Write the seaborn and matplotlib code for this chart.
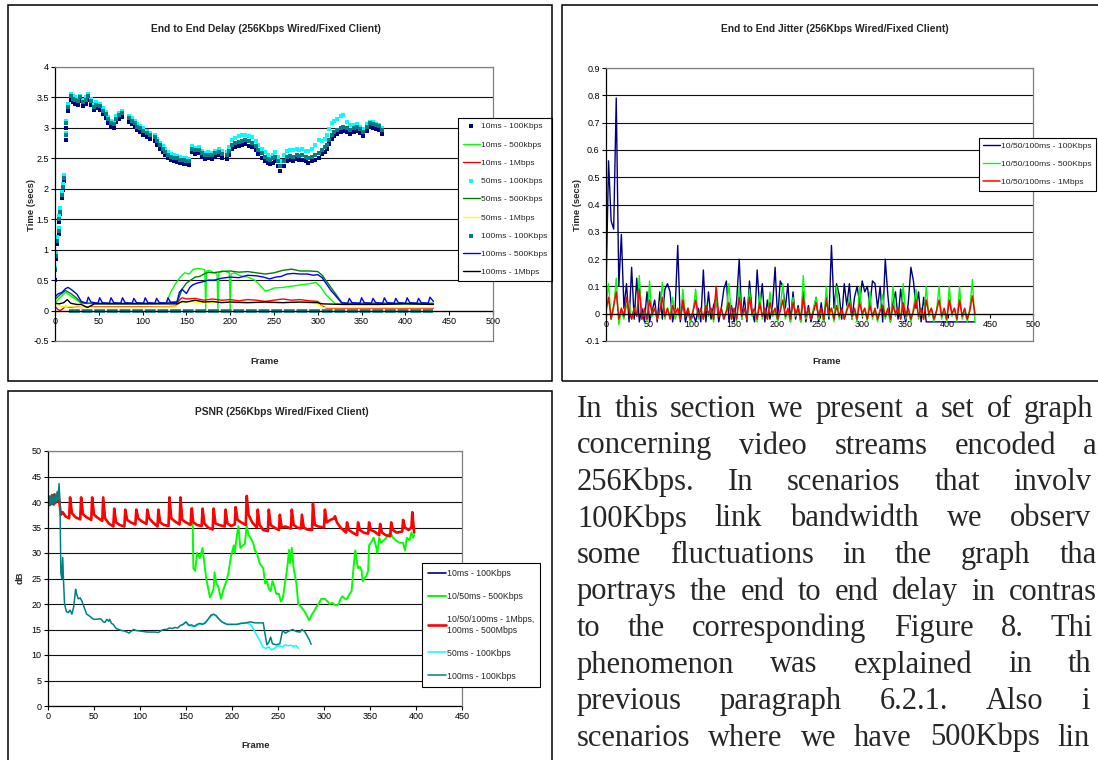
import numpy as np
import matplotlib
matplotlib.use("Agg")
import matplotlib.pyplot as plt
from matplotlib.patches import Rectangle
from matplotlib.ticker import FixedLocator, FuncFormatter
import seaborn as sns

# ---------------- End to End Delay (256Kbps) ----------------
delay_frames = [0, 1, 2, 4, 5, 6, 8, 9, 10, 12,
                13, 15, 18, 20, 23, 26, 29, 32, 35, 38,
                41, 44, 47, 51, 55, 58, 61, 64, 67, 70,
                73, 76, 85, 88, 91, 94, 97, 101, 105, 109,
                114, 117, 120, 123, 126, 129, 132, 136, 139, 143,
                147, 150, 153, 156, 160, 164, 168, 171, 175, 179,
                183, 187, 191, 196, 199, 202, 206, 210, 214, 217,
                221, 225, 229, 232, 236, 240, 243, 246, 249, 251,
                254, 257, 261, 265, 268, 272, 276, 279, 282, 286,
                289, 293, 297, 301, 305, 308, 310, 313, 316, 319,
                322, 326, 329, 333, 337, 341, 345, 348, 352, 356,
                360, 363, 367, 370, 373]
delay_10ms_100k = [0.50, 0.85, 1.10, 1.25, 1.45, 1.58, 1.85, 1.98, 2.12, 2.80,
                   3.00, 3.28, 3.45, 3.42, 3.40, 3.38, 3.44, 3.36, 3.40, 3.46,
                   3.38, 3.30, 3.32, 3.30, 3.22, 3.16, 3.08, 3.02, 3.00, 3.09,
                   3.15, 3.18, 3.10, 3.06, 3.02, 2.96, 2.93, 2.89, 2.85, 2.82,
                   2.79, 2.72, 2.66, 2.60, 2.55, 2.50, 2.47, 2.45, 2.44, 2.42,
                   2.41, 2.40, 2.39, 2.60, 2.57, 2.58, 2.52, 2.49, 2.50, 2.49,
                   2.52, 2.55, 2.51, 2.49, 2.55, 2.65, 2.68, 2.70, 2.72, 2.73,
                   2.71, 2.69, 2.63, 2.57, 2.51, 2.46, 2.42, 2.40, 2.43, 2.46,
                   2.38, 2.30, 2.37, 2.46, 2.47, 2.46, 2.49, 2.47, 2.48, 2.45,
                   2.43, 2.46, 2.48, 2.51, 2.57, 2.61, 2.65, 2.73, 2.81, 2.86,
                   2.90, 2.93, 2.95, 2.93, 2.90, 2.93, 2.95, 2.91, 2.87, 2.95,
                   3.01, 3.00, 2.98, 2.96, 2.90]
delay_50ms_100k = [0.70, 0.95, 1.20, 1.35, 1.55, 1.68, 1.95, 2.08, 2.22, 2.92,
                   3.12, 3.40, 3.56, 3.52, 3.50, 3.48, 3.53, 3.46, 3.50, 3.55,
                   3.48, 3.40, 3.42, 3.40, 3.32, 3.26, 3.18, 3.12, 3.10, 3.19,
                   3.25, 3.28, 3.20, 3.16, 3.12, 3.06, 3.03, 2.99, 2.95, 2.92,
                   2.89, 2.82, 2.76, 2.70, 2.65, 2.60, 2.57, 2.55, 2.54, 2.52,
                   2.51, 2.50, 2.49, 2.70, 2.67, 2.68, 2.62, 2.59, 2.60, 2.59,
                   2.62, 2.65, 2.62, 2.60, 2.68, 2.80, 2.84, 2.86, 2.88, 2.89,
                   2.87, 2.85, 2.78, 2.72, 2.65, 2.60, 2.56, 2.53, 2.56, 2.60,
                   2.52, 2.45, 2.55, 2.62, 2.64, 2.63, 2.66, 2.64, 2.65, 2.62,
                   2.62, 2.66, 2.72, 2.80, 2.78, 2.82, 2.88, 2.98, 3.08, 3.12,
                   3.14, 3.20, 3.21, 3.10, 3.04, 3.04, 3.06, 3.02, 2.98, 3.06,
                   3.10, 3.09, 3.07, 3.05, 3.00]
delay_100ms_100k = [0.66, 0.90, 1.15, 1.30, 1.50, 1.62, 1.90, 2.03, 2.18, 2.88,
                    3.08, 3.35, 3.52, 3.48, 3.46, 3.44, 3.50, 3.42, 3.46, 3.52,
                    3.44, 3.35, 3.38, 3.36, 3.28, 3.22, 3.14, 3.08, 3.06, 3.15,
                    3.21, 3.24, 3.16, 3.12, 3.08, 3.02, 2.99, 2.95, 2.91, 2.88,
                    2.85, 2.78, 2.72, 2.66, 2.61, 2.56, 2.53, 2.51, 2.50, 2.48,
                    2.47, 2.46, 2.45, 2.66, 2.63, 2.64, 2.58, 2.55, 2.56, 2.55,
                    2.58, 2.61, 2.57, 2.55, 2.62, 2.72, 2.75, 2.77, 2.79, 2.80,
                    2.78, 2.76, 2.70, 2.64, 2.58, 2.53, 2.49, 2.47, 2.50, 2.53,
                    2.45, 2.38, 2.45, 2.53, 2.54, 2.53, 2.56, 2.54, 2.55, 2.52,
                    2.50, 2.53, 2.55, 2.58, 2.64, 2.68, 2.72, 2.80, 2.88, 2.93,
                    2.97, 3.00, 3.02, 3.00, 2.97, 3.00, 3.02, 2.98, 2.94, 3.02,
                    3.08, 3.07, 3.05, 3.03, 2.97]
# frames lost by the 100ms - 100Kbps stream sit on the zero line
lost_span = [16, 432]
lost_level = [0.0, 0.0]

lime_frames = [0, 5, 12, 18, 25, 30, 60, 100, 127, 132,
               138, 143, 148, 153, 158, 163, 168, 171, 172, 173,
               176, 180, 185, 186, 187, 190, 195, 199, 200, 201,
               205, 210, 215, 220, 225, 228, 232, 236, 240, 245,
               250, 260, 270, 280, 290, 298, 303, 310, 320, 360,
               400, 432]
delay_10ms_500k = [0.12, 0.20, 0.30, 0.24, 0.17, 0.12, 0.11, 0.11, 0.12, 0.30,
                   0.45, 0.55, 0.62, 0.60, 0.68, 0.69, 0.68, 0.67, 0.02, 0.65,
                   0.66, 0.63, 0.60, 0.03, 0.62, 0.65, 0.64, 0.62, 0.00, 0.60,
                   0.62, 0.58, 0.56, 0.55, 0.52, 0.50, 0.45, 0.38, 0.32, 0.34,
                   0.37, 0.38, 0.40, 0.42, 0.44, 0.46, 0.39, 0.25, 0.11, 0.11,
                   0.11, 0.11]

red_frames = [0, 3, 6, 9, 12, 15, 20, 25, 30, 40,
              60, 80, 100, 120, 138, 142, 145, 150, 160, 170,
              180, 190, 200, 210, 220, 230, 240, 250, 260, 270,
              280, 290, 300, 304, 310, 350, 400, 432]
delay_10ms_1m = [0.07, 0.02, 0.00, 0.03, 0.07, 0.06, 0.05, 0.06, 0.05, 0.06,
                 0.06, 0.06, 0.06, 0.06, 0.07, 0.17, 0.21, 0.19, 0.20, 0.17,
                 0.19, 0.17, 0.18, 0.16, 0.18, 0.17, 0.15, 0.17, 0.19, 0.17,
                 0.18, 0.16, 0.15, 0.08, 0.04, 0.04, 0.04, 0.04]

dkgreen_frames = [0, 5, 12, 18, 25, 30, 40, 60, 80, 100,
                  120, 140, 145, 150, 155, 160, 165, 170, 175, 180,
                  190, 200, 210, 220, 230, 240, 250, 260, 270, 280,
                  290, 300, 305, 315, 328, 360, 400, 432]
delay_50ms_500k = [0.18, 0.25, 0.33, 0.28, 0.20, 0.13, 0.12, 0.12, 0.12, 0.12,
                   0.12, 0.15, 0.35, 0.45, 0.50, 0.55, 0.56, 0.60, 0.63, 0.62,
                   0.64, 0.65, 0.63, 0.64, 0.62, 0.60, 0.62, 0.66, 0.68, 0.65,
                   0.65, 0.64, 0.58, 0.38, 0.12, 0.12, 0.12, 0.12]

yellow_frames = [0, 5, 10, 15, 20, 30, 60, 100, 138, 142,
                 150, 170, 190, 210, 230, 250, 270, 290, 300, 306,
                 320, 360, 400, 432]
delay_50ms_1m = [0.10, 0.08, 0.06, 0.07, 0.06, 0.05, 0.05, 0.05, 0.06, 0.13,
                 0.15, 0.13, 0.14, 0.12, 0.13, 0.12, 0.14, 0.12, 0.11, 0.05,
                 0.05, 0.05, 0.05, 0.05]

blue_frames = [0, 3, 8, 12, 15, 20, 25, 30,
               36, 38, 41, 49, 51, 54, 62, 64, 67, 75, 77, 80,
               88, 90, 93, 101, 103, 106, 114, 116, 119, 127, 129, 132,
               139, 142, 145, 150, 154, 157, 162, 168, 175, 182,
               190, 200, 210, 220, 230, 238, 245, 252, 258, 265,
               272, 280, 288, 295, 300, 305, 315, 327,
               334, 336, 339, 348, 350, 353, 361, 363, 366, 374, 376, 379,
               387, 389, 392, 400, 402, 405, 413, 415, 418, 426, 428, 432]
delay_100ms_500k = [0.22, 0.27, 0.30, 0.36, 0.38, 0.33, 0.27, 0.15,
                    0.12, 0.22, 0.14, 0.12, 0.21, 0.13, 0.12, 0.21, 0.13, 0.12, 0.21, 0.13,
                    0.12, 0.20, 0.13, 0.12, 0.21, 0.13, 0.12, 0.20, 0.13, 0.12, 0.21, 0.13,
                    0.13, 0.30, 0.35, 0.28, 0.38, 0.42, 0.45, 0.47, 0.50, 0.50,
                    0.53, 0.55, 0.54, 0.58, 0.57, 0.55, 0.52, 0.55, 0.56, 0.60,
                    0.61, 0.60, 0.60, 0.58, 0.59, 0.54, 0.33, 0.13,
                    0.12, 0.20, 0.13, 0.12, 0.21, 0.13, 0.12, 0.20, 0.13, 0.12, 0.21, 0.13,
                    0.12, 0.20, 0.13, 0.12, 0.21, 0.13, 0.12, 0.20, 0.13, 0.12, 0.22, 0.15]

black_frames = [0, 5, 10, 14, 18, 25, 30, 37, 45, 60,
                80, 100, 120, 140, 145, 150, 160, 170, 180, 190,
                200, 220, 240, 260, 280, 300, 305, 330, 370, 400,
                432]
delay_100ms_1m = [0.12, 0.11, 0.13, 0.18, 0.12, 0.10, 0.10, 0.05, 0.11, 0.11,
                  0.11, 0.11, 0.11, 0.11, 0.15, 0.14, 0.17, 0.14, 0.15, 0.13,
                  0.14, 0.13, 0.14, 0.13, 0.14, 0.13, 0.11, 0.10, 0.10, 0.11,
                  0.10]

# ---------------- End to End Jitter (256Kbps) ----------------
jitter_frames = list(range(0, 433, 3))
jitter_100k = [0.08, 0.56, 0.34, 0.31, 0.79, 0.10, 0.29, 0.02, 0.11, -0.03,
               0.17, -0.02, 0.13, -0.03, 0.02, -0.03, 0.08, -0.03, 0.01, 0.05,
               -0.03, 0.08, -0.02, 0.09, 0.11, 0.08, -0.03, 0.02, 0.25, -0.03,
               0.05, -0.03, 0.01, -0.03, 0.00, -0.03, 0.02, -0.03, 0.16, -0.03,
               0.08, -0.02, 0.03, 0.06, -0.03, 0.02, 0.09, 0.12, -0.03, 0.03,
               -0.03, 0.05, 0.20, -0.02, 0.06, -0.03, 0.12, 0.01, -0.03, 0.16,
               0.02, 0.11, -0.03, 0.05, -0.02, 0.03, 0.17, -0.02, 0.12, 0.10,
               0.02, 0.11, -0.03, 0.08, -0.02, 0.03, -0.03, 0.08, -0.03, 0.03,
               -0.03, 0.01, 0.06, -0.03, 0.04, -0.03, 0.06, -0.02, 0.25, 0.02,
               0.11, 0.07, -0.02, 0.11, 0.03, 0.11, -0.02, 0.06, 0.10, 0.04,
               0.12, 0.08, 0.10, 0.03, 0.12, 0.11, 0.02, 0.10, -0.03, 0.20,
               0.07, -0.03, 0.04, 0.08, -0.02, 0.09, 0.01, -0.03, 0.04, 0.17,
               0.12, 0.02, 0.08, -0.03, 0.06, -0.03, -0.03, -0.03, -0.03, -0.03,
               -0.03, -0.03, -0.03, -0.03, -0.03, -0.03, -0.03, -0.03, -0.03, -0.03,
               -0.03, -0.03, -0.03, -0.03, -0.03]
jitter_500k = [0.03, 0.11, -0.02, 0.02, 0.13, -0.04, 0.01, -0.02, 0.03, 0.04,
               -0.02, 0.02, -0.01, 0.14, -0.02, 0.01, -0.03, 0.12, -0.01, 0.02,
               -0.02, 0.01, 0.115, -0.02, 0.02, -0.01, 0.06, -0.02, 0.01, -0.02,
               0.09, -0.01, 0.02, -0.03, 0.01, 0.09, -0.02, 0.01, -0.02, 0.04,
               -0.01, 0.02, -0.03, 0.06, -0.01, 0.02, -0.02, 0.01, 0.11, -0.02,
               0.01, -0.03, 0.10, -0.02, 0.02, -0.02, 0.09, -0.01, 0.01, -0.03,
               0.075, -0.02, 0.02, -0.02, 0.08, -0.01, 0.01, -0.03, 0.02, 0.11,
               -0.02, 0.01, -0.03, 0.06, -0.01, 0.02, -0.03, 0.14, -0.02, 0.01,
               -0.02, 0.02, 0.06, -0.02, 0.01, -0.03, 0.10, -0.01, 0.02, -0.03,
               0.10, -0.02, 0.01, -0.02, 0.02, 0.06, -0.02, 0.01, -0.03, 0.10,
               -0.01, 0.02, -0.03, 0.08, -0.02, 0.01, -0.03, 0.02, 0.07, -0.02,
               0.01, -0.03, 0.10, -0.01, 0.02, -0.02, 0.11, -0.02, 0.01, -0.03,
               0.02, 0.09, -0.02, 0.01, -0.02, 0.10, -0.01, 0.02, -0.03, 0.01,
               0.10, -0.02, 0.01, -0.03, 0.10, -0.01, 0.02, -0.03, 0.10, -0.02,
               0.01, -0.03, 0.02, 0.125, -0.03]
jitter_1m = [0.01, 0.06, -0.02, 0.03, 0.08, -0.02, 0.02, -0.01, 0.06, 0.01,
             -0.02, 0.02, -0.01, 0.09, -0.02, 0.02, -0.02, 0.05, 0.00, 0.02,
             -0.02, 0.01, 0.06, -0.01, 0.02, -0.02, 0.03, 0.00, 0.02, -0.02,
             0.05, -0.01, 0.02, -0.02, 0.01, 0.05, -0.01, 0.02, -0.02, 0.03,
             0.00, 0.02, -0.02, 0.10, -0.01, 0.02, -0.02, 0.01, 0.04, -0.02,
             0.02, -0.02, 0.06, -0.01, 0.02, -0.02, 0.06, 0.00, 0.02, -0.02,
             0.04, -0.01, 0.02, -0.02, 0.04, 0.00, 0.02, -0.02, 0.01, 0.05,
             -0.01, 0.02, -0.02, 0.04, 0.00, 0.02, -0.02, 0.06, -0.01, 0.02,
             -0.02, 0.01, 0.04, -0.01, 0.02, -0.02, 0.05, 0.00, 0.02, -0.02,
             0.03, -0.01, 0.02, -0.02, 0.01, 0.04, -0.01, 0.02, -0.02, 0.04,
             0.00, 0.02, -0.02, 0.03, -0.01, 0.02, -0.02, 0.01, 0.03, -0.01,
             0.02, -0.02, 0.03, 0.00, 0.02, -0.02, 0.04, -0.01, 0.02, -0.02,
             0.01, 0.05, -0.01, 0.02, -0.02, 0.05, 0.00, 0.02, -0.02, 0.01,
             0.05, -0.01, 0.02, -0.02, 0.05, 0.00, 0.02, -0.02, 0.05, -0.01,
             0.02, -0.02, 0.01, 0.065, 0.00]

# ---------------- PSNR (256Kbps) ----------------
psnr_navy_frames = [0, 1, 2, 3, 4, 5, 6, 7, 8, 9, 10, 11, 12, 13]
psnr_10ms_100k = [39.8, 40.6, 39.5, 41.0, 39.6, 41.2, 39.7, 41.3, 39.9, 41.0,
                  40.3, 41.8, 40.6, 39.5]

psnr_green_frames = [157, 158, 160, 162, 165, 168, 170, 172, 176, 178,
                     180, 181, 183, 185, 188, 191, 194, 196, 199, 202,
                     203, 205, 207, 209, 212, 214, 216, 218, 220, 223,
                     225, 227, 230, 232, 234, 236, 238, 240, 242, 244,
                     246, 248, 251, 253, 255, 256, 258, 260, 262, 263,
                     265, 267, 268, 270, 272, 275, 279, 282, 284, 287,
                     289, 292, 294, 297, 301, 304, 306, 309, 313, 316,
                     318, 320, 323, 325, 328, 330, 332, 334, 336, 337,
                     339, 341, 342, 344, 346, 348, 349, 351, 354, 357,
                     358, 360, 362, 365, 368, 372, 375, 378, 382, 386,
                     388, 390, 393, 395, 397, 398]
psnr_500k = [38.9, 27.0, 26.5, 30.0, 29.0, 31.0, 28.0, 25.0, 21.3, 22.0,
             23.0, 26.2, 24.0, 23.5, 21.0, 23.0, 24.5, 26.0, 29.5, 31.5,
             30.0, 33.0, 35.3, 31.0, 31.5, 31.8, 35.5, 33.5, 33.0, 32.0,
             30.5, 30.0, 28.0, 27.5, 27.0, 24.0, 24.5, 23.0, 22.5, 24.5,
             23.5, 22.0, 22.0, 20.5, 21.0, 22.0, 24.6, 27.0, 30.6, 28.0,
             31.0, 27.0, 26.0, 24.0, 20.0, 19.5, 18.5, 17.5, 16.8, 18.0,
             18.5, 19.5, 20.0, 21.0, 21.0, 20.5, 20.0, 20.2, 19.7, 20.0,
             21.0, 21.5, 21.0, 21.0, 22.0, 22.5, 27.0, 30.5, 28.0, 27.0,
             27.3, 26.5, 24.5, 25.0, 25.5, 26.5, 31.5, 32.0, 33.0, 31.0,
             30.0, 33.0, 32.0, 32.5, 33.0, 34.0, 33.0, 32.5, 32.0, 32.0,
             30.5, 33.0, 32.5, 34.0, 33.0, 33.5]

psnr_red_frames = [0, 1, 2, 3, 4, 5, 6, 7, 8, 9, 10, 11, 12, 13,
                   14, 16, 19, 23, 24, 26, 30, 35, 36, 38, 42, 47, 48, 50, 54, 59,
                   60, 62, 66, 71, 72, 74, 78, 83, 84, 86, 90, 95, 96, 98, 102,
                   107, 108, 110, 114, 119, 120, 122, 126, 131, 132, 134, 138, 143,
                   144, 146, 150, 155, 156, 158, 162, 167, 168, 170, 174, 179, 180,
                   182, 186, 192, 193, 195, 199, 203, 204, 206, 210, 215, 216, 218,
                   222, 227, 228, 230, 234, 239, 240, 242, 246, 251, 252, 254, 258,
                   264, 265, 267, 271, 275, 276, 278, 282, 287, 288, 290, 294, 300,
                   301, 303, 307, 311, 312, 314, 318, 324, 325, 327, 331, 336, 337,
                   339, 343, 348, 349, 351, 355, 360, 361, 363, 367, 372, 373, 375,
                   379, 385, 386, 388, 392, 395, 396, 398]
psnr_1m = [39.5, 40.8, 39.4, 41.0, 39.6, 41.3, 39.5, 41.5, 39.8, 41.0, 40.2, 42.0, 40.5, 39.0,
           37.5, 38.0, 37.2, 36.8, 40.9, 37.8, 37.0, 36.6, 40.9, 37.6, 37.0, 36.5, 40.9, 37.5, 36.9, 36.3,
           40.9, 36.8, 35.8, 35.2, 38.7, 36.0, 35.5, 35.2, 38.5, 36.5, 36.0, 35.6, 38.5, 36.8, 36.2,
           35.7, 38.5, 36.8, 36.0, 35.2, 38.5, 36.0, 35.5, 35.3, 40.9, 36.8, 36.2, 35.6,
           40.9, 36.5, 36.0, 35.5, 38.7, 36.0, 35.5, 35.3, 38.7, 35.8, 35.0, 34.6, 38.7,
           35.8, 35.5, 35.2, 38.5, 35.8, 35.3, 35.6, 39.0, 36.5, 36.0, 35.5, 41.2, 37.5,
           36.0, 35.0, 38.5, 35.5, 34.5, 34.3, 38.5, 35.5, 35.0, 34.5, 37.5, 35.0, 35.2,
           34.8, 38.5, 35.5, 35.0, 34.8, 37.5, 35.0, 34.6, 34.5, 39.7, 35.5, 35.2, 35.0,
           38.5, 36.0, 36.5, 36.8, 37.2, 36.0, 35.0, 34.0, 36.0, 34.5, 34.0, 33.5, 36.0,
           34.5, 34.0, 33.8, 36.0, 34.5, 34.2, 33.5, 35.7, 34.0, 33.5, 33.3, 36.0, 34.5,
           34.0, 34.2, 36.5, 35.0, 34.5, 35.0, 38.0, 34.0]

psnr_cyan_frames = [145, 150, 153, 156, 160, 165, 170, 175, 180, 185,
                    190, 195, 200, 205, 210, 215, 220, 222, 225, 228,
                    231, 234, 237, 240, 243, 246, 249, 252, 255, 258,
                    261, 264, 267, 270, 272]
psnr_50ms_100k = [15.8, 16.5, 15.8, 15.7, 15.6, 16.1, 16.2, 17.2, 18.0, 17.2,
                  16.4, 16.0, 16.0, 16.0, 16.2, 16.3, 16.0, 15.5, 14.5, 13.5,
                  12.5, 11.5, 11.3, 11.6, 11.0, 11.3, 11.7, 11.8, 11.6, 12.0,
                  11.8, 11.9, 11.7, 11.8, 11.3]

psnr_teal_frames = [0, 1, 2, 3, 4, 5, 6, 7, 8, 9,
                    10, 11, 12, 13, 14, 15, 16, 17, 18, 20,
                    22, 24, 26, 28, 30, 31, 33, 35, 37, 40,
                    42, 44, 46, 48, 50, 53, 56, 58, 60, 62,
                    64, 66, 67, 69, 71, 74, 77, 80, 83, 86,
                    88, 90, 93, 96, 100, 104, 108, 112, 116, 120,
                    123, 126, 129, 132, 135, 138, 141, 144, 147, 150,
                    153, 156, 159, 162, 165, 168, 171, 174, 177, 180,
                    183, 186, 189, 192, 195, 200, 205, 210, 215, 220,
                    225, 230, 234, 236, 238, 240, 242, 244, 248, 252,
                    255, 258, 262, 266, 270, 274, 276, 279, 281, 284,
                    286]
psnr_100ms_100k = [40.0, 39.4, 41.2, 39.5, 41.5, 39.6, 41.0, 39.8, 41.5, 40.0,
                   42.0, 40.5, 43.6, 40.0, 26.0, 25.0, 29.1, 24.0, 20.0, 18.5,
                   18.3, 18.8, 18.0, 19.5, 22.9, 22.0, 21.0, 21.2, 20.5, 19.0,
                   18.0, 17.8, 17.5, 17.2, 17.0, 17.0, 17.1, 17.0, 16.5, 16.4,
                   17.0, 16.6, 17.0, 16.2, 16.0, 15.2, 15.0, 14.8, 14.7, 14.5,
                   14.3, 14.6, 15.0, 14.8, 14.7, 14.6, 14.5, 14.5, 14.5, 14.4,
                   14.8, 15.0, 15.0, 15.3, 15.2, 15.4, 15.3, 15.8, 16.0, 16.5,
                   15.8, 15.9, 15.6, 16.0, 16.2, 16.0, 16.3, 17.0, 17.8, 18.0,
                   17.7, 17.0, 16.5, 16.2, 16.0, 16.0, 16.0, 16.2, 16.3, 16.5,
                   16.3, 16.3, 16.3, 14.0, 12.0, 12.5, 13.5, 12.2, 12.0, 12.2,
                   14.8, 14.3, 14.7, 15.0, 14.6, 14.5, 15.0, 14.6, 14.0, 13.0,
                   12.1]

# body text beside the charts; the column runs past the right page edge
paragraph_lines = [
    "In this section we present a set of graphs",
    "concerning video streams encoded at",
    "256Kbps. In scenarios that involve",
    "100Kbps link bandwidth we observe",
    "some fluctuations in the graph that",
    "portrays the end to end delay in contrast",
    "to the corresponding Figure 8. This",
    "phenomenon was explained in the",
    "previous paragraph 6.2.1. Also in",
    "scenarios where we have 500Kbps link",
]

NAVY, LIME, RED, CYAN = "#000080", "#00FF00", "#FF0000", "#00FFFF"
DKGREEN, YELLOW, TEAL, BLUE = "#008000", "#FFFF00", "#008080", "#0000FF"
GRAY = "#808080"

sns.set_theme(style="white")
plt.rcParams["font.family"] = ["Liberation Sans", "DejaVu Sans"]

W, H = 1098, 760
fig = plt.figure(figsize=(W / 100, H / 100), dpi=100)
fig.patch.set_facecolor("white")


def fx(px):
    return px / W


def fy(py):
    return 1 - py / H


def make_axes(x0, y0, x1, y1):
    return fig.add_axes([fx(x0), fy(y1), (x1 - x0) / W, (y1 - y0) / H])


def style_axes(ax, xmax, ymin, ymax, ystep, zero_axis):
    ax.set_xlim(0, xmax)
    ax.set_ylim(ymin, ymax)
    yt = [round(ymin + i * ystep, 6) for i in range(int(round((ymax - ymin) / ystep)) + 1)]
    xt = list(range(0, xmax + 1, 50))
    ax.yaxis.set_major_locator(FixedLocator(yt))
    ax.xaxis.set_major_locator(FixedLocator(xt))
    ax.yaxis.set_major_formatter(FuncFormatter(lambda v, p: f"{v + 0.0:g}"))
    ax.xaxis.set_major_formatter(FuncFormatter(lambda v, p: f"{v:g}"))
    ax.set_axisbelow(True)
    ax.yaxis.grid(True, color="#111111", linewidth=0.8)
    ax.xaxis.grid(False)
    ax.tick_params(axis="both", which="major", direction="out", length=3,
                   width=0.8, labelsize=6.5, pad=1.5, colors="black",
                   bottom=True, left=True, top=False, right=False)
    for side in ("top", "right"):
        ax.spines[side].set_color(GRAY)
        ax.spines[side].set_linewidth(0.9)
        ax.spines[side].set_zorder(3)
    ax.spines["left"].set_color("black")
    ax.spines["left"].set_linewidth(0.9)
    ax.spines["bottom"].set_color("black")
    ax.spines["bottom"].set_linewidth(0.9)
    if zero_axis:
        ax.spines["bottom"].set_position(("data", 0))
        ax.axhline(ymin, color=GRAY, linewidth=0.9, zorder=3, clip_on=False)
    ax.set_xlabel("")
    ax.set_ylabel("")


def line(ax, x, y, color, lw, label=None, zorder=2):
    kw = {} if label is None else {"label": label}
    sns.lineplot(x=x, y=y, ax=ax, color=color, linewidth=lw, estimator=None,
                 sort=False, zorder=zorder, **kw)


def dots(ax, x, y, color, label):
    sns.scatterplot(x=x, y=y, ax=ax, color=color, marker="s", s=8,
                    linewidth=0, label=label, zorder=2)


def boxed_legend(ax, x0, y0, fontsize, spacing, pad, handlelength=2.0):
    h, l = ax.get_legend_handles_labels()
    leg = ax.legend(h, l, loc="upper left", bbox_to_anchor=(fx(x0), fy(y0)),
                    bbox_transform=fig.transFigure, frameon=True, fancybox=False,
                    edgecolor="black", framealpha=1, fontsize=fontsize,
                    handlelength=handlelength, handletextpad=0.15,
                    labelspacing=spacing, borderpad=pad, borderaxespad=0,
                    scatterpoints=1, markerscale=1.0)
    leg.get_frame().set_linewidth(0.8)
    leg.set_zorder(10)
    return leg


# ---- End to End Delay ----
ax1 = make_axes(55, 67, 493, 341)
dots(ax1, delay_frames, delay_10ms_100k, NAVY, "10ms - 100Kbps")
line(ax1, lime_frames, delay_10ms_500k, LIME, 1.0, "10ms - 500kbps")
line(ax1, red_frames, delay_10ms_1m, RED, 1.0, "10ms - 1Mbps")
dots(ax1, delay_frames, delay_50ms_100k, CYAN, "50ms - 100Kbps")
line(ax1, dkgreen_frames, delay_50ms_500k, DKGREEN, 1.0, "50ms - 500Kbps")
line(ax1, yellow_frames, delay_50ms_1m, YELLOW, 1.0, "50ms - 1Mbps")
dots(ax1, delay_frames, delay_100ms_100k, TEAL, "100ms - 100Kbps")
sns.lineplot(x=lost_span, y=lost_level, ax=ax1, color=TEAL, linewidth=2.6,
             linestyle=(0, (3, 0.5)), estimator=None, sort=False, zorder=2)
line(ax1, blue_frames, delay_100ms_500k, BLUE, 1.0, "100ms - 500Kbps")
line(ax1, black_frames, delay_100ms_1m, "black", 1.0, "100ms - 1Mbps")
style_axes(ax1, 500, -0.5, 4.0, 0.5, zero_axis=True)
boxed_legend(ax1, 458, 118, 6.0, 1.25, 0.55, handlelength=2.1)

# ---- End to End Jitter ----
ax2 = make_axes(606, 68, 1033, 341)
line(ax2, jitter_frames, jitter_100k, NAVY, 1.0, "10/50/100ms - 100Kbps")
line(ax2, jitter_frames, jitter_500k, LIME, 1.0, "10/50/100ms - 500Kbps")
line(ax2, jitter_frames, jitter_1m, RED, 1.1, "10/50/100ms - 1Mbps")
style_axes(ax2, 500, -0.1, 0.9, 0.1, zero_axis=True)
boxed_legend(ax2, 979, 138, 6.1, 1.2, 0.5)

# ---- PSNR ----
ax3 = make_axes(48, 451, 462, 706)
line(ax3, psnr_navy_frames, psnr_10ms_100k, NAVY, 1.2, "10ms - 100Kbps")
line(ax3, psnr_green_frames, psnr_500k, LIME, 1.4, "10/50ms - 500Kbps")
line(ax3, psnr_red_frames, psnr_1m, RED, 1.9, "10/50/100ms - 1Mbps,\n100ms - 500Mbps")
line(ax3, psnr_cyan_frames, psnr_50ms_100k, CYAN, 1.1, "50ms - 100Kbps")
line(ax3, psnr_teal_frames, psnr_100ms_100k, TEAL, 1.1, "100ms - 100Kbps")
style_axes(ax3, 450, 0, 50, 5, zero_axis=False)
boxed_legend(ax3, 422, 563, 6.3, 1.6, 0.7)

# ---- titles and axis captions ----
title_kw = dict(fontsize=7.4, fontweight="bold", ha="center", va="center")
fig.text(fx(266), fy(29), "End to End Delay (256Kbps Wired/Fixed Client)", **title_kw)
fig.text(fx(835), fy(29), "End to End Jitter (256Kbps Wired/Fixed Client)", **title_kw)
fig.text(fx(282), fy(412), "PSNR (256Kbps Wired/Fixed Client)", **title_kw)

cap_kw = dict(fontsize=6.8, fontweight="bold", ha="center", va="center")
fig.text(fx(265), fy(361), "Frame", **cap_kw)
fig.text(fx(827), fy(361), "Frame", **cap_kw)
fig.text(fx(256), fy(745), "Frame", **cap_kw)
fig.text(fx(31), fy(205), "Time (secs)", rotation=90, **cap_kw)
fig.text(fx(578), fy(205), "Time (secs)", rotation=90, **cap_kw)
fig.text(fx(20), fy(578), "dB", rotation=90, **cap_kw)

# ---- chart frames ----
for (x0, y0, x1, y1) in [(8, 5, 552, 381), (562, 5, 1110, 381), (8, 391, 552, 775)]:
    fig.add_artist(Rectangle((fx(x0), fy(y1)), (x1 - x0) / W, (y1 - y0) / H,
                             transform=fig.transFigure, fill=False,
                             edgecolor="black", linewidth=1.1))

# ---- justified body text, trimmed where it meets the page edge ----
renderer = fig.canvas.get_renderer()
serif = dict(fontsize=22, family="Liberation Serif")
x_left, x_right = 577, 1105
base_y, leading = 417, 36.5


def text_width(s):
    t = fig.text(0, 0, s, **serif)
    w = t.get_window_extent(renderer).width
    t.remove()
    return w


for i, row in enumerate(paragraph_lines):
    words = row.split()
    widths = [text_width(w) for w in words]
    gap = (x_right - x_left - sum(widths)) / (len(words) - 1)
    x = x_left
    for w, wd in zip(words, widths):
        shown = w
        while shown and x + text_width(shown) > W - 1:
            shown = shown[:-1]
        if shown:
            fig.text(fx(x), fy(base_y + i * leading), shown, ha="left",
                     va="baseline", **serif)
        x += wd + gap

fig.savefig("out.png", dpi=100, facecolor="white")
